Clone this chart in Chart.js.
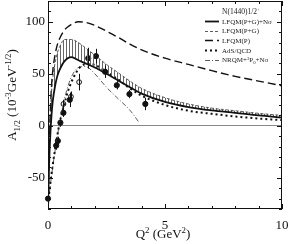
<!DOCTYPE html>
<html>
<head>
<meta charset="utf-8">
<script src="https://cdn.jsdelivr.net/npm/chart.js@4.4.1/dist/chart.umd.min.js"></script>
<style>
  html, body { margin: 0; padding: 0; background: #fff; }
</style>
</head>
<body>
<canvas id="c" width="289" height="244"></canvas>
<script>
// N(1440)1/2+ : amplitude A1/2 en fonction de Q²
const SERIF = "'Liberation Serif', 'DejaVu Serif', serif"
const NOIR  = '#111'

// grille commune des courbes LFQM
const Q_LFQM     = [0, 0.05, 0.1, 0.15, 0.2, 0.3, 0.4, 0.5, 0.7, 1.0, 1.3, 1.6, 2, 2.5, 3, 3.5, 4, 5, 6, 7, 8, 9, 10]
const A_PG_SIGMA = [-78, -35, -8, 10, 23, 38, 48, 54, 62, 66, 63, 60, 56, 50, 43.5, 37, 31, 23, 18, 14.8, 12.5, 10, 8]
const A_PG       = [-78, -25, 12, 32, 45, 60, 70, 76, 83, 83, 80, 75, 68, 59, 51, 43, 36, 27, 21, 17, 14.5, 12, 10]
const A_P        = [-78, -22, 15, 38, 52, 68, 78, 84, 92, 97.5, 100, 99.5, 96.5, 91, 85, 78.5, 73, 65, 59, 53, 47.5, 43, 38.5]

const Q_ADS = [0, 0.1, 0.2, 0.3, 0.4, 0.5, 0.7, 0.85, 1.0, 1.2, 1.4, 1.7, 2, 2.5, 3, 3.5, 4, 5, 6, 7, 8, 9, 10]
const A_ADS = [-75, -55, -38, -23, -9, 3, 21, 33, 42, 51, 57, 59.5, 58.5, 52, 44.5, 36, 29, 20, 14.5, 11.5, 9, 7, 5.5]

const Q_NRQM = [0, 0.2, 0.4, 0.6, 0.8, 1.0, 1.3, 1.6, 2, 2.5, 3, 3.5, 3.9]
const A_NRQM = [-75, -40, -10, 15, 34, 47, 56, 57, 50, 37, 26, 15, 3]

// données expérimentales
const Q_PLEIN   = [0.0, 0.35, 0.42, 0.53, 0.66, 0.93, 1.72, 2.05, 2.44, 2.94, 3.48, 4.16]
const A_PLEIN   = [-70, -19, -14.5, 3, 12.5, 25, 65, 67, 52, 39, 30.5, 21]
const ERR_PLEIN = [2, 4, 4, 4, 4, 7, 10, 7, 6, 4, 4, 6]
const Q_VIDE    = [0.66, 0.98, 1.33]
const A_VIDE    = [21, 28, 42]
const ERR_VIDE  = [4, 5, 8]

const X_TICKS = [0, 5, 10]
const Y_TICKS = [-50, 0, 50, 100]

const pts = (xs, ys) => xs.map((x, i) => ({ x, y: ys[i] }))

// hachures verticales pour la bande LFQM
function hachures() {
  const c = document.createElement('canvas')
  c.width = 3; c.height = 3
  const g = c.getContext('2d')
  g.fillStyle = '#666'
  g.fillRect(0, 0, 1, 3)
  return g.createPattern(c, 'repeat')
}

function texteRiche(ctx, x, y, segs, taille, mesurer) {
  let cx = x
  for (const s of segs) {
    const t = s.m ? taille * 0.68 : taille
    ctx.font = `${t}px ${SERIF}`
    const dy = s.m === 'sup' ? -taille * 0.38 : s.m === 'sub' ? taille * 0.28 : 0
    if (!mesurer) ctx.fillText(s.t, cx, y + dy)
    cx += ctx.measureText(s.t).width
  }
  return cx - x
}

const LEGENDE = [
  { segs: [{ t: 'LFQM(P+G)+Nσ' }], ds: 0 },
  { segs: [{ t: 'LFQM(P+G)' }], ds: 1 },
  { segs: [{ t: 'LFQM(P)' }], ds: 2 },
  { segs: [{ t: 'AdS/QCD' }], ds: 3 },
  { segs: [{ t: 'NRQM+' }, { t: '3', m: 'sup' }, { t: 'P' }, { t: '0', m: 'sub' }, { t: '+Nσ' }], ds: 4 },
]

const habillage = {
  id: 'habillage',
  afterDatasetsDraw(chart) {
    const { ctx, scales: { x, y } } = chart
    ctx.save()
    ctx.strokeStyle = NOIR
    ctx.lineWidth = 1
    chart.data.datasets.forEach(ds => {
      if (!ds.erreurs) return
      ds.data.forEach((p, i) => {
        const px = Math.round(x.getPixelForValue(p.x)) + 0.5
        ctx.beginPath()
        ctx.moveTo(px, y.getPixelForValue(p.y - ds.erreurs[i]))
        ctx.lineTo(px, y.getPixelForValue(p.y + ds.erreurs[i]))
        ctx.stroke()
      })
    })
    ctx.restore()
  },
  afterDraw(chart) {
    const { ctx, chartArea: a, scales: { x, y } } = chart

    // cadre + graduations intérieures
    ctx.save()
    ctx.strokeStyle = NOIR
    ctx.lineWidth = 1
    ctx.strokeRect(a.left + 0.5, a.top + 0.5, a.right - a.left - 1, a.bottom - a.top - 1)
    ctx.beginPath()
    for (let v = 0; v <= 10; v++) {
      const px = Math.round(x.getPixelForValue(v)) + 0.5
      const l = v % 5 === 0 ? 5 : 3
      ctx.moveTo(px, a.bottom); ctx.lineTo(px, a.bottom - l)
      ctx.moveTo(px, a.top); ctx.lineTo(px, a.top + l)
    }
    for (let v = -80; v <= 120; v += 10) {
      const py = Math.round(y.getPixelForValue(v)) + 0.5
      const l = v % 50 === 0 ? 5 : 3
      ctx.moveTo(a.left, py); ctx.lineTo(a.left + l, py)
      ctx.moveTo(a.right, py); ctx.lineTo(a.right - l, py)
    }
    ctx.stroke()
    ctx.restore()

    // légende, position fixe en haut à droite
    ctx.save()
    ctx.fillStyle = '#222'
    ctx.textBaseline = 'alphabetic'
    ctx.textAlign = 'left'
    ctx.font = `7.5px ${SERIF}`
    ctx.fillText('N(1440)1/2', 222, 14)
    const wEntete = ctx.measureText('N(1440)1/2').width
    ctx.font = `5px ${SERIF}`
    ctx.fillText('+', 222 + wEntete, 11)
    LEGENDE.forEach((e, i) => {
      const ds = chart.data.datasets[e.ds]
      const yy = 21 + i * 9.7
      ctx.strokeStyle = ds.borderColor
      ctx.lineWidth = ds.borderWidth
      ctx.setLineDash(ds.borderDash || [])
      ctx.beginPath()
      ctx.moveTo(205, Math.round(yy) + 0.5)
      ctx.lineTo(219, Math.round(yy) + 0.5)
      ctx.stroke()
      ctx.setLineDash([])
      texteRiche(ctx, 222, yy + 2.5, e.segs, 7)
    })
    ctx.restore()

    // titres des axes
    ctx.save()
    ctx.fillStyle = NOIR
    ctx.textBaseline = 'alphabetic'
    ctx.textAlign = 'left'
    const titreX = [{ t: 'Q' }, { t: '2', m: 'sup' }, { t: ' (GeV' }, { t: '2', m: 'sup' }, { t: ')' }]
    const wx = texteRiche(ctx, 0, 0, titreX, 13, true)
    texteRiche(ctx, 163 - wx / 2, 238, titreX, 13)

    const titreY = [{ t: 'A' }, { t: '1/2', m: 'sub' }, { t: ' (10' }, { t: '-3', m: 'sup' }, { t: 'GeV' }, { t: '-1/2', m: 'sup' }, { t: ')' }]
    const wy = texteRiche(ctx, 0, 0, titreY, 13, true)
    ctx.translate(16, 95)
    ctx.rotate(-Math.PI / 2)
    texteRiche(ctx, -wy / 2, 0, titreY, 13)
    ctx.restore()
  },
}

const courbe = (label, data, extra) => ({
  label, data, showLine: true, pointRadius: 0, fill: false,
  cubicInterpolationMode: 'monotone', borderColor: NOIR, ...extra,
})

const sansMarge = s => { s.paddingTop = 0; s.paddingBottom = 0; s.paddingLeft = 0; s.paddingRight = 0 }

new Chart(document.getElementById('c').getContext('2d'), {
  type: 'scatter',
  data: {
    datasets: [
      courbe('LFQM(P+G)+Nσ', pts(Q_LFQM, A_PG_SIGMA), { borderWidth: 1.8 }),
      courbe('LFQM(P+G)', pts(Q_LFQM, A_PG), { borderWidth: 0.8, borderDash: [3, 2], borderColor: '#333', fill: '-1', backgroundColor: hachures() }),
      courbe('LFQM(P)', pts(Q_LFQM, A_P), { borderWidth: 1.4, borderDash: [8, 4] }),
      courbe('AdS/QCD', pts(Q_ADS, A_ADS), { borderWidth: 2, borderDash: [2, 3] }),
      courbe('NRQM', pts(Q_NRQM, A_NRQM), { borderWidth: 0.8, borderDash: [5, 2, 1, 2], borderColor: '#333' }),
      { label: 'données', data: pts(Q_PLEIN, A_PLEIN), erreurs: ERR_PLEIN, clip: false,
        pointRadius: 2.6, pointBackgroundColor: NOIR, pointBorderColor: NOIR, pointBorderWidth: 1 },
      { label: 'données (o)', data: pts(Q_VIDE, A_VIDE), erreurs: ERR_VIDE, clip: false,
        pointRadius: 2.4, pointBackgroundColor: '#fff', pointBorderColor: NOIR, pointBorderWidth: 1 },
    ],
  },
  options: {
    responsive: false,
    animation: false,
    devicePixelRatio: 1,
    layout: { autoPadding: false, padding: { top: 1, right: 7, left: 0, bottom: 0 } },
    plugins: { legend: { display: false }, tooltip: { enabled: false } },
    scales: {
      x: {
        type: 'linear', min: 0, max: 10,
        afterBuildTicks: s => { s.ticks = X_TICKS.map(value => ({ value })) },
        afterFit: s => { s.height = 35; sansMarge(s) },
        ticks: { color: NOIR, font: { family: SERIF, size: 13 }, padding: 1 },
        grid: { display: false },
        border: { display: false },
      },
      y: {
        min: -80, max: 120,
        afterBuildTicks: s => { s.ticks = Y_TICKS.map(value => ({ value })) },
        afterFit: s => { s.width = 48; sansMarge(s) },
        ticks: { color: NOIR, font: { family: SERIF, size: 13 }, padding: 3 },
        grid: { drawTicks: false, color: c => c.tick && c.tick.value === 0 ? '#888' : 'rgba(0,0,0,0)' },
        border: { display: false },
      },
    },
  },
  plugins: [habillage],
})
</script>
</body>
</html>
